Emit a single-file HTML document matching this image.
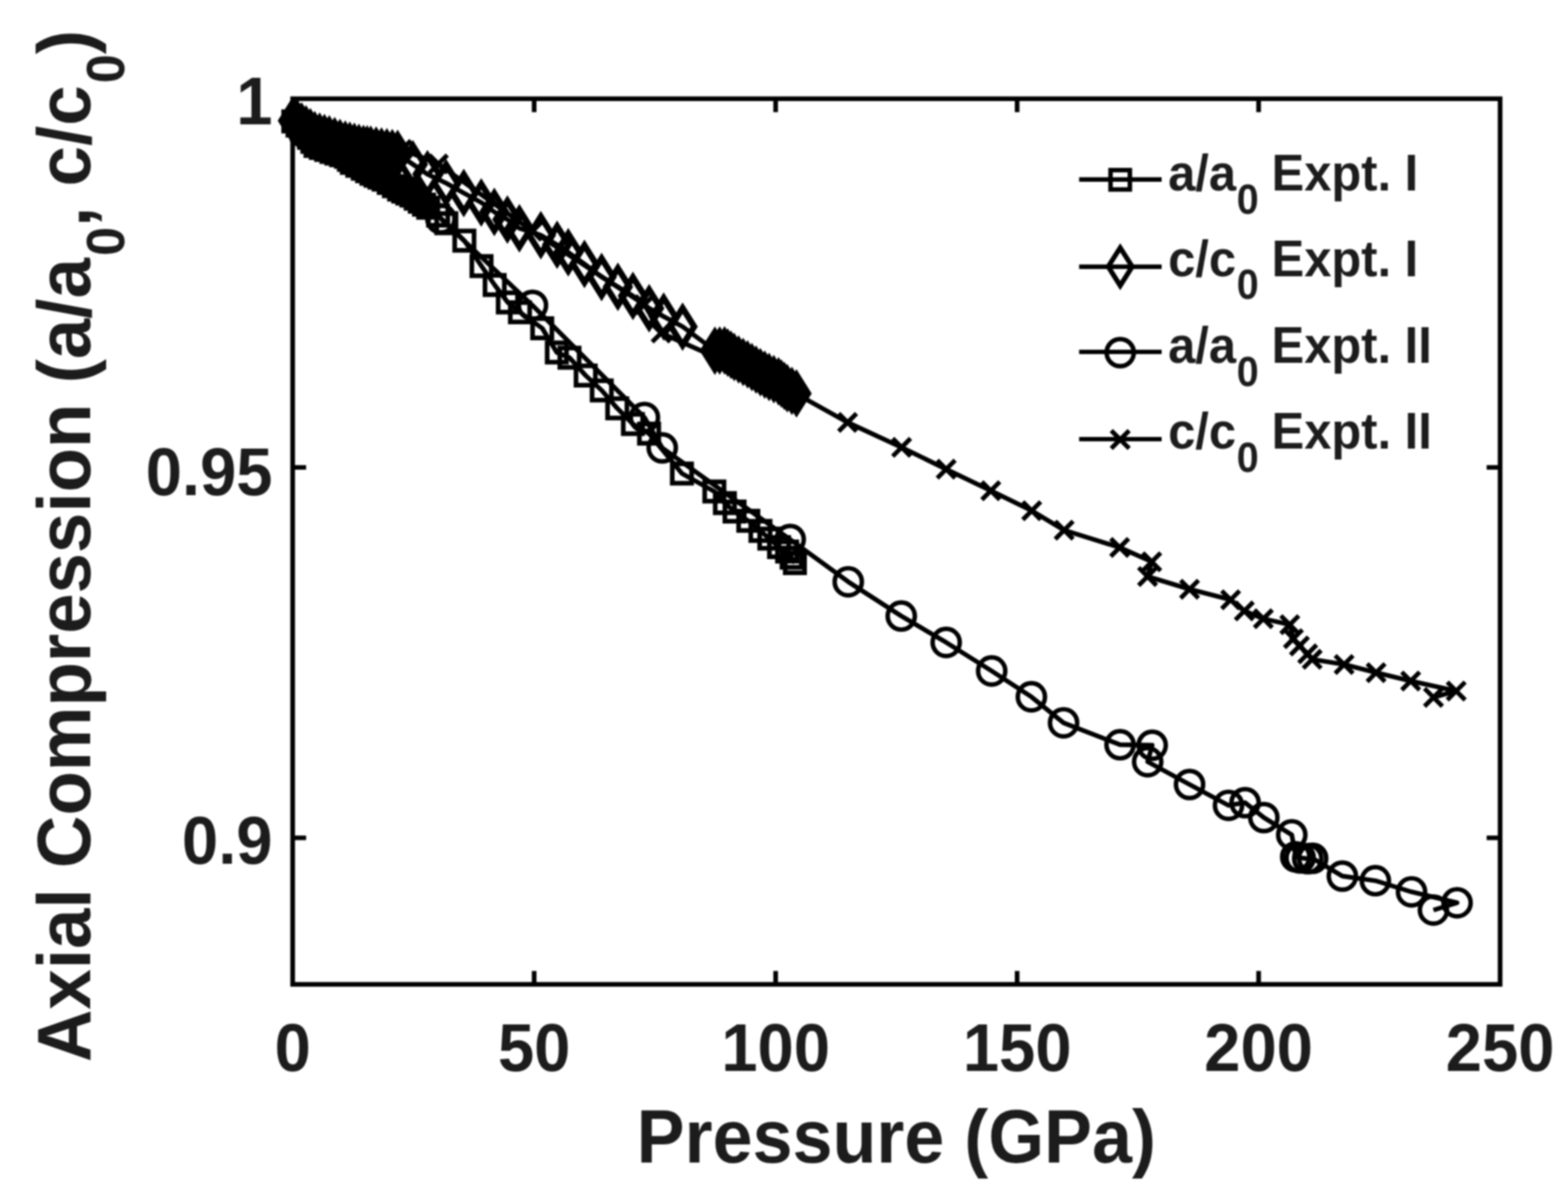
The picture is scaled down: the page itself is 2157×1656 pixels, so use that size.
<!DOCTYPE html>
<html lang="en"><head><meta charset="utf-8"><title>Axial Compression vs Pressure</title>
<style>
html,body{margin:0;padding:0;background:#fff;}
body{width:2157px;height:1656px;overflow:hidden;}
svg{display:block;filter:blur(1.3px);}
text{font-family:"Liberation Sans",Arial,Helvetica,sans-serif;font-weight:bold;fill:#1c1c1c;}
</style></head><body>
<svg xmlns="http://www.w3.org/2000/svg" width="2157" height="1656" viewBox="0 0 2157 1656">
<rect x="0" y="0" width="2157" height="1656" fill="#fff"/>
<g stroke="#000">
<g id="a1">
<polyline points="403.5,167.0 409.3,172.7 415.2,178.3 421.0,184.0 425.3,189.6 429.7,195.1 434.0,200.7 441.3,203.5 448.7,206.2 456.0,209.0 462.7,211.2 469.3,213.5 476.0,215.7 480.0,219.8 484.0,224.0 491.5,228.0 499.0,232.0 505.0,235.5 511.0,239.0 516.6,241.7 522.1,244.3 527.7,247.0 534.8,251.6 541.9,256.1 549.0,260.7 554.7,263.5 560.3,266.2 566.0,269.0 571.8,273.2 577.5,277.4 583.2,281.5 589.0,285.7 602.7,296.5 614.0,307.0 638.8,331.0 662.4,366.0 680.5,392.0 698.6,416.0 715.3,429.5 745.9,451.5 766.0,484.8 783.4,492.0 805.7,516.5 827.8,537.0 849.1,561.6 870.7,583.2 892.9,596.4 938.1,651.3 982.7,676.0 997.2,692.0 1010.5,703.6 1029.4,716.3 1046.1,730.2 1058.3,740.8 1071.7,752.5 1082.8,758.6 1089.0,767.0 1093.5,774.5" fill="none" stroke-width="6.4" stroke-linejoin="round"/>
<g fill="none" stroke-width="6.4"><rect x="390.2" y="153.7" width="26.6" height="26.6"/><rect x="396.0" y="159.4" width="26.6" height="26.6"/><rect x="401.9" y="165.0" width="26.6" height="26.6"/><rect x="407.7" y="170.7" width="26.6" height="26.6"/><rect x="412.0" y="176.3" width="26.6" height="26.6"/><rect x="416.4" y="181.8" width="26.6" height="26.6"/><rect x="420.7" y="187.4" width="26.6" height="26.6"/><rect x="428.0" y="190.2" width="26.6" height="26.6"/><rect x="435.4" y="192.9" width="26.6" height="26.6"/><rect x="442.7" y="195.7" width="26.6" height="26.6"/><rect x="449.4" y="197.9" width="26.6" height="26.6"/><rect x="456.0" y="200.2" width="26.6" height="26.6"/><rect x="462.7" y="202.4" width="26.6" height="26.6"/><rect x="466.7" y="206.5" width="26.6" height="26.6"/><rect x="470.7" y="210.7" width="26.6" height="26.6"/><rect x="478.2" y="214.7" width="26.6" height="26.6"/><rect x="485.7" y="218.7" width="26.6" height="26.6"/><rect x="491.7" y="222.2" width="26.6" height="26.6"/><rect x="497.7" y="225.7" width="26.6" height="26.6"/><rect x="503.3" y="228.4" width="26.6" height="26.6"/><rect x="508.8" y="231.0" width="26.6" height="26.6"/><rect x="514.4" y="233.7" width="26.6" height="26.6"/><rect x="521.5" y="238.3" width="26.6" height="26.6"/><rect x="528.6" y="242.8" width="26.6" height="26.6"/><rect x="535.7" y="247.4" width="26.6" height="26.6"/><rect x="541.4" y="250.2" width="26.6" height="26.6"/><rect x="547.0" y="252.9" width="26.6" height="26.6"/><rect x="552.7" y="255.7" width="26.6" height="26.6"/><rect x="558.5" y="259.9" width="26.6" height="26.6"/><rect x="564.2" y="264.1" width="26.6" height="26.6"/><rect x="570.0" y="268.2" width="26.6" height="26.6"/><rect x="575.7" y="272.4" width="26.6" height="26.6"/><rect x="589.4" y="283.2" width="26.6" height="26.6"/><rect x="600.7" y="293.7" width="26.6" height="26.6"/><rect x="625.5" y="317.7" width="26.6" height="26.6"/><rect x="649.1" y="352.7" width="26.6" height="26.6"/><rect x="667.2" y="378.7" width="26.6" height="26.6"/><rect x="685.3" y="402.7" width="26.6" height="26.6"/><rect x="702.0" y="416.2" width="26.6" height="26.6"/><rect x="732.6" y="438.2" width="26.6" height="26.6"/><rect x="752.7" y="471.5" width="26.6" height="26.6"/><rect x="770.1" y="478.7" width="26.6" height="26.6"/><rect x="792.4" y="503.2" width="26.6" height="26.6"/><rect x="814.5" y="523.7" width="26.6" height="26.6"/><rect x="835.8" y="548.3" width="26.6" height="26.6"/><rect x="857.4" y="569.9" width="26.6" height="26.6"/><rect x="879.6" y="583.1" width="26.6" height="26.6"/><rect x="924.8" y="638.0" width="26.6" height="26.6"/><rect x="969.4" y="662.7" width="26.6" height="26.6"/><rect x="983.9" y="678.7" width="26.6" height="26.6"/><rect x="997.2" y="690.3" width="26.6" height="26.6"/><rect x="1016.1" y="703.0" width="26.6" height="26.6"/><rect x="1032.8" y="716.9" width="26.6" height="26.6"/><rect x="1045.0" y="727.5" width="26.6" height="26.6"/><rect x="1058.4" y="739.2" width="26.6" height="26.6"/><rect x="1069.5" y="745.3" width="26.6" height="26.6"/><rect x="1075.7" y="753.7" width="26.6" height="26.6"/><rect x="1080.2" y="761.2" width="26.6" height="26.6"/></g>
</g>
<g id="c1">
<polyline points="403.0,166.0 409.0,170.0 415.0,174.0 421.0,178.0 427.0,182.0 433.0,186.0 439.7,187.9 446.3,189.8 453.0,191.7 460.3,194.1 467.7,196.6 475.0,199.0 481.2,200.5 487.5,202.0 493.8,203.5 500.0,205.0 505.0,205.5 510.0,206.0 517.4,207.1 524.8,208.3 532.2,209.4 539.6,210.6 547.0,211.7 568.0,226.0 588.0,239.6 613.7,251.9 638.0,265.5 662.0,278.5 680.0,291.5 698.0,302.0 714.5,314.0 744.0,323.5 766.4,336.7 781.7,347.0 804.0,363.0 827.6,381.0 850.0,394.5 870.7,407.0 893.0,424.0 913.0,435.4 939.0,449.3 983.4,482.3 990.0,482.1 996.7,482.0 1001.1,485.0 1005.6,488.0 1010.0,491.0 1016.1,494.4 1022.3,497.8 1028.4,501.2 1034.3,504.8 1040.1,508.4 1046.0,512.0 1052.0,515.2 1058.0,518.5 1064.5,521.5 1071.0,524.5 1075.0,527.7 1079.0,530.8 1083.0,534.0 1089.3,537.6 1095.7,541.2" fill="none" stroke-width="6.4" stroke-linejoin="round"/>
<g fill="none" stroke-width="8.4"><path d="M403.0 140.5L419.0 166.0L403.0 191.5L387.0 166.0Z"/><path d="M409.0 144.5L425.0 170.0L409.0 195.5L393.0 170.0Z"/><path d="M415.0 148.5L431.0 174.0L415.0 199.5L399.0 174.0Z"/><path d="M421.0 152.5L437.0 178.0L421.0 203.5L405.0 178.0Z"/><path d="M427.0 156.5L443.0 182.0L427.0 207.5L411.0 182.0Z"/><path d="M433.0 160.5L449.0 186.0L433.0 211.5L417.0 186.0Z"/><path d="M439.7 162.4L455.7 187.9L439.7 213.4L423.7 187.9Z"/><path d="M446.3 164.3L462.3 189.8L446.3 215.3L430.3 189.8Z"/><path d="M453.0 166.2L469.0 191.7L453.0 217.2L437.0 191.7Z"/><path d="M460.3 168.6L476.3 194.1L460.3 219.6L444.3 194.1Z"/><path d="M467.7 171.1L483.7 196.6L467.7 222.1L451.7 196.6Z"/><path d="M475.0 173.5L491.0 199.0L475.0 224.5L459.0 199.0Z"/><path d="M481.2 175.0L497.2 200.5L481.2 226.0L465.2 200.5Z"/><path d="M487.5 176.5L503.5 202.0L487.5 227.5L471.5 202.0Z"/><path d="M493.8 178.0L509.8 203.5L493.8 229.0L477.8 203.5Z"/><path d="M500.0 179.5L516.0 205.0L500.0 230.5L484.0 205.0Z"/><path d="M505.0 180.0L521.0 205.5L505.0 231.0L489.0 205.5Z"/><path d="M510.0 180.5L526.0 206.0L510.0 231.5L494.0 206.0Z"/><path d="M517.4 181.6L533.4 207.1L517.4 232.6L501.4 207.1Z"/><path d="M524.8 182.8L540.8 208.3L524.8 233.8L508.8 208.3Z"/><path d="M532.2 183.9L548.2 209.4L532.2 234.9L516.2 209.4Z"/><path d="M539.6 185.1L555.6 210.6L539.6 236.1L523.6 210.6Z"/><path d="M547.0 186.2L563.0 211.7L547.0 237.2L531.0 211.7Z"/><path d="M568.0 200.5L584.0 226.0L568.0 251.5L552.0 226.0Z"/><path d="M588.0 214.1L604.0 239.6L588.0 265.1L572.0 239.6Z"/><path d="M613.7 226.4L629.7 251.9L613.7 277.4L597.7 251.9Z"/><path d="M638.0 240.0L654.0 265.5L638.0 291.0L622.0 265.5Z"/><path d="M662.0 253.0L678.0 278.5L662.0 304.0L646.0 278.5Z"/><path d="M680.0 266.0L696.0 291.5L680.0 317.0L664.0 291.5Z"/><path d="M698.0 276.5L714.0 302.0L698.0 327.5L682.0 302.0Z"/><path d="M714.5 288.5L730.5 314.0L714.5 339.5L698.5 314.0Z"/><path d="M744.0 298.0L760.0 323.5L744.0 349.0L728.0 323.5Z"/><path d="M766.4 311.2L782.4 336.7L766.4 362.2L750.4 336.7Z"/><path d="M781.7 321.5L797.7 347.0L781.7 372.5L765.7 347.0Z"/><path d="M804.0 337.5L820.0 363.0L804.0 388.5L788.0 363.0Z"/><path d="M827.6 355.5L843.6 381.0L827.6 406.5L811.6 381.0Z"/><path d="M850.0 369.0L866.0 394.5L850.0 420.0L834.0 394.5Z"/><path d="M870.7 381.5L886.7 407.0L870.7 432.5L854.7 407.0Z"/><path d="M893.0 398.5L909.0 424.0L893.0 449.5L877.0 424.0Z"/><path d="M913.0 409.9L929.0 435.4L913.0 460.9L897.0 435.4Z"/><path d="M939.0 423.8L955.0 449.3L939.0 474.8L923.0 449.3Z"/><path d="M983.4 456.8L999.4 482.3L983.4 507.8L967.4 482.3Z"/><path d="M990.0 456.6L1006.0 482.1L990.0 507.6L974.0 482.1Z"/><path d="M996.7 456.5L1012.7 482.0L996.7 507.5L980.7 482.0Z"/><path d="M1001.1 459.5L1017.1 485.0L1001.1 510.5L985.1 485.0Z"/><path d="M1005.6 462.5L1021.6 488.0L1005.6 513.5L989.6 488.0Z"/><path d="M1010.0 465.5L1026.0 491.0L1010.0 516.5L994.0 491.0Z"/><path d="M1016.1 468.9L1032.1 494.4L1016.1 519.9L1000.1 494.4Z"/><path d="M1022.3 472.3L1038.3 497.8L1022.3 523.3L1006.3 497.8Z"/><path d="M1028.4 475.7L1044.4 501.2L1028.4 526.7L1012.4 501.2Z"/><path d="M1034.3 479.3L1050.3 504.8L1034.3 530.3L1018.3 504.8Z"/><path d="M1040.1 482.9L1056.1 508.4L1040.1 533.9L1024.1 508.4Z"/><path d="M1046.0 486.5L1062.0 512.0L1046.0 537.5L1030.0 512.0Z"/><path d="M1052.0 489.8L1068.0 515.2L1052.0 540.8L1036.0 515.2Z"/><path d="M1058.0 493.0L1074.0 518.5L1058.0 544.0L1042.0 518.5Z"/><path d="M1064.5 496.0L1080.5 521.5L1064.5 547.0L1048.5 521.5Z"/><path d="M1071.0 499.0L1087.0 524.5L1071.0 550.0L1055.0 524.5Z"/><path d="M1075.0 502.2L1091.0 527.7L1075.0 553.2L1059.0 527.7Z"/><path d="M1079.0 505.3L1095.0 530.8L1079.0 556.3L1063.0 530.8Z"/><path d="M1083.0 508.5L1099.0 534.0L1083.0 559.5L1067.0 534.0Z"/><path d="M1089.3 512.1L1105.3 537.6L1089.3 563.1L1073.3 537.6Z"/><path d="M1095.7 515.7L1111.7 541.2L1095.7 566.7L1079.7 541.2Z"/></g>
</g>
<g id="a2">
<polyline points="606.5,301.0 732.5,420.0 886.5,574.2 911.0,616.0 1087.0,742.0 1166.9,800.2 1239.8,847.3 1301.6,883.6 1364.2,922.9 1418.8,958.4 1463.1,994.2 1540.8,1024.3 1585.0,1025.0 1578.8,1047.7 1636.4,1079.0 1690.0,1107.7 1712.8,1104.0 1738.6,1124.5 1777.0,1148.2 1782.5,1178.5 1788.5,1180.0 1799.0,1181.0 1805.7,1180.5 1846.6,1205.0 1892.0,1211.3 1941.8,1226.7 2004.4,1241.7 1971.9,1251.7" fill="none" stroke-width="6.4" stroke-linejoin="round"/>
<g fill="none" stroke-width="6.2"><circle cx="606.5" cy="301.0" r="18.7"/><circle cx="732.5" cy="420.0" r="18.7"/><circle cx="886.5" cy="574.2" r="18.7"/><circle cx="911.0" cy="616.0" r="18.7"/><circle cx="1087.0" cy="742.0" r="18.7"/><circle cx="1166.9" cy="800.2" r="18.7"/><circle cx="1239.8" cy="847.3" r="18.7"/><circle cx="1301.6" cy="883.6" r="18.7"/><circle cx="1364.2" cy="922.9" r="18.7"/><circle cx="1418.8" cy="958.4" r="18.7"/><circle cx="1463.1" cy="994.2" r="18.7"/><circle cx="1540.8" cy="1024.3" r="18.7"/><circle cx="1585.0" cy="1025.0" r="18.7"/><circle cx="1578.8" cy="1047.7" r="18.7"/><circle cx="1636.4" cy="1079.0" r="18.7"/><circle cx="1690.0" cy="1107.7" r="18.7"/><circle cx="1712.8" cy="1104.0" r="18.7"/><circle cx="1738.6" cy="1124.5" r="18.7"/><circle cx="1777.0" cy="1148.2" r="18.7"/><circle cx="1782.5" cy="1178.5" r="18.7"/><circle cx="1788.5" cy="1180.0" r="18.7"/><circle cx="1799.0" cy="1181.0" r="18.7"/><circle cx="1805.7" cy="1180.5" r="18.7"/><circle cx="1846.6" cy="1205.0" r="18.7"/><circle cx="1892.0" cy="1211.3" r="18.7"/><circle cx="1941.8" cy="1226.7" r="18.7"/><circle cx="2004.4" cy="1241.7" r="18.7"/><circle cx="1971.9" cy="1251.7" r="18.7"/></g>
</g>
<g id="c2">
<polyline points="553.0,205.5 603.0,225.5 732.5,318.0 886.5,419.0 909.5,458.0 1087.0,537.0 1166.0,581.0 1240.3,615.3 1301.6,645.3 1363.0,674.9 1419.3,702.4 1463.9,729.2 1540.3,753.0 1584.4,772.7 1578.6,792.9 1636.4,810.4 1692.9,824.9 1711.7,840.3 1737.9,851.0 1774.3,859.2 1779.3,878.4 1787.6,888.4 1798.9,899.3 1805.1,906.8 1849.0,913.9 1893.0,925.2 1940.6,936.7 2003.2,950.4 1971.9,959.2" fill="none" stroke-width="6.4" stroke-linejoin="round"/>
<g fill="none" stroke-width="6.2"><path d="M540.7 193.2L565.3 217.8M540.7 217.8L565.3 193.2"/><path d="M590.7 213.2L615.3 237.8M590.7 237.8L615.3 213.2"/><path d="M720.2 305.7L744.8 330.3M720.2 330.3L744.8 305.7"/><path d="M874.2 406.7L898.8 431.3M874.2 431.3L898.8 406.7"/><path d="M897.2 445.7L921.8 470.3M897.2 470.3L921.8 445.7"/><path d="M1074.7 524.7L1099.3 549.3M1074.7 549.3L1099.3 524.7"/><path d="M1153.7 568.7L1178.3 593.3M1153.7 593.3L1178.3 568.7"/><path d="M1228.0 603.0L1252.6 627.6M1228.0 627.6L1252.6 603.0"/><path d="M1289.3 633.0L1313.9 657.6M1289.3 657.6L1313.9 633.0"/><path d="M1350.7 662.6L1375.3 687.2M1350.7 687.2L1375.3 662.6"/><path d="M1407.0 690.1L1431.6 714.7M1407.0 714.7L1431.6 690.1"/><path d="M1451.6 716.9L1476.2 741.5M1451.6 741.5L1476.2 716.9"/><path d="M1528.0 740.7L1552.6 765.3M1528.0 765.3L1552.6 740.7"/><path d="M1572.1 760.4L1596.7 785.0M1572.1 785.0L1596.7 760.4"/><path d="M1566.3 780.6L1590.9 805.2M1566.3 805.2L1590.9 780.6"/><path d="M1624.1 798.1L1648.7 822.7M1624.1 822.7L1648.7 798.1"/><path d="M1680.6 812.6L1705.2 837.2M1680.6 837.2L1705.2 812.6"/><path d="M1699.4 828.0L1724.0 852.6M1699.4 852.6L1724.0 828.0"/><path d="M1725.6 838.7L1750.2 863.3M1725.6 863.3L1750.2 838.7"/><path d="M1762.0 846.9L1786.6 871.5M1762.0 871.5L1786.6 846.9"/><path d="M1767.0 866.1L1791.6 890.7M1767.0 890.7L1791.6 866.1"/><path d="M1775.3 876.1L1799.9 900.7M1775.3 900.7L1799.9 876.1"/><path d="M1786.6 887.0L1811.2 911.6M1786.6 911.6L1811.2 887.0"/><path d="M1792.8 894.5L1817.4 919.1M1792.8 919.1L1817.4 894.5"/><path d="M1836.7 901.6L1861.3 926.2M1836.7 926.2L1861.3 901.6"/><path d="M1880.7 912.9L1905.3 937.5M1880.7 937.5L1905.3 912.9"/><path d="M1928.3 924.4L1952.9 949.0M1928.3 949.0L1952.9 924.4"/><path d="M1990.9 938.1L2015.5 962.7M1990.9 962.7L2015.5 938.1"/><path d="M1959.6 946.9L1984.2 971.5M1959.6 971.5L1984.2 946.9"/></g>
</g>
</g>
<g id="axes" stroke="#000" stroke-width="6.4" fill="none" stroke-linecap="butt">
<rect x="402.6" y="135.8" width="1661.0" height="1218.1"/>
<path d="M734.8 1353.9V1335.4M734.8 135.8V154.3"/>
<path d="M1067.0 1353.9V1335.4M1067.0 135.8V154.3"/>
<path d="M1399.2 1353.9V1335.4M1399.2 135.8V154.3"/>
<path d="M1731.4 1353.9V1335.4M1731.4 135.8V154.3"/>
<path d="M402.6 642.9H421.1M2063.6 642.9H2045.1"/>
<path d="M402.6 1152.4H421.1M2063.6 1152.4H2045.1"/>
</g>
<g id="xticks">
<text transform="translate(402.6 1472.5) scale(0.9750 1)" font-size="92.0" text-anchor="middle">0</text>
<text transform="translate(734.8 1472.5) scale(0.9750 1)" font-size="92.0" text-anchor="middle">50</text>
<text transform="translate(1067.0 1472.5) scale(0.9750 1)" font-size="92.0" text-anchor="middle">100</text>
<text transform="translate(1399.2 1472.5) scale(0.9750 1)" font-size="92.0" text-anchor="middle">150</text>
<text transform="translate(1731.4 1472.5) scale(0.9750 1)" font-size="92.0" text-anchor="middle">200</text>
<text transform="translate(2063.6 1472.5) scale(0.9750 1)" font-size="92.0" text-anchor="middle">250</text>
</g>
<g id="yticks">
<text transform="translate(375.0 171.3) scale(0.9750 1)" font-size="92.0" text-anchor="end">1</text>
<text transform="translate(375.0 681.4) scale(0.9750 1)" font-size="92.0" text-anchor="end">0.95</text>
<text transform="translate(375.0 1187.9) scale(0.9750 1)" font-size="92.0" text-anchor="end">0.9</text>
</g>
<g id="labels">
<text transform="translate(1233.0 1598.8) scale(0.9600 1)" font-size="103.0" text-anchor="middle">Pressure (GPa)</text>
<text transform="translate(124.0 751.0) rotate(-90) scale(0.9710 1)" font-size="103.0" text-anchor="middle">Axial Compression (a/a<tspan font-size="74.2" dy="47.0" dx="3.0">0</tspan><tspan dy="-47.0" dx="0.0">, c/c<tspan font-size="74.2" dy="47.0" dx="3.0">0</tspan><tspan dy="-47.0" dx="0.0">)</tspan></tspan></text>
</g>
<g id="legend">
<g stroke="#000" fill="none">
<path d="M1484.5 246.8H1598.0" stroke-width="6.2"/><g stroke-width="6.2"><rect x="1527.7" y="234.0" width="26.6" height="26.6"/></g>
<path d="M1484.5 366.8H1598.0" stroke-width="6.2"/><g stroke-width="6.8"><path d="M1541.0 340.8L1557.5 366.8L1541.0 392.8L1524.5 366.8Z"/></g>
<path d="M1484.5 484.0H1598.0" stroke-width="6.2"/><g stroke-width="6.2"><circle cx="1541.0" cy="485.0" r="18.7"/></g>
<path d="M1484.5 604.0H1598.0" stroke-width="6.2"/><g stroke-width="6.2"><path d="M1528.7 592.2L1553.3 616.8M1528.7 616.8L1553.3 592.2"/></g>
</g>
<text transform="translate(1607.0 261.9) scale(0.9600 1)" font-size="70.0" text-anchor="start">a/a<tspan font-size="56.7" dy="31.6" dx="1.0">0</tspan><tspan dy="-31.6" dx="-1.0"> Expt. I</tspan></text>
<text transform="translate(1607.0 379.8) scale(0.9600 1)" font-size="70.0" text-anchor="start">c/c<tspan font-size="56.7" dy="31.6" dx="1.0">0</tspan><tspan dy="-31.6" dx="-1.0"> Expt. I</tspan></text>
<text transform="translate(1607.0 499.0) scale(0.9600 1)" font-size="70.0" text-anchor="start">a/a<tspan font-size="56.7" dy="31.6" dx="1.0">0</tspan><tspan dy="-31.6" dx="-1.0"> Expt. II</tspan></text>
<text transform="translate(1607.0 616.9) scale(0.9600 1)" font-size="70.0" text-anchor="start">c/c<tspan font-size="56.7" dy="31.6" dx="1.0">0</tspan><tspan dy="-31.6" dx="-1.0"> Expt. II</tspan></text>
</g>
</svg>
</body></html>
